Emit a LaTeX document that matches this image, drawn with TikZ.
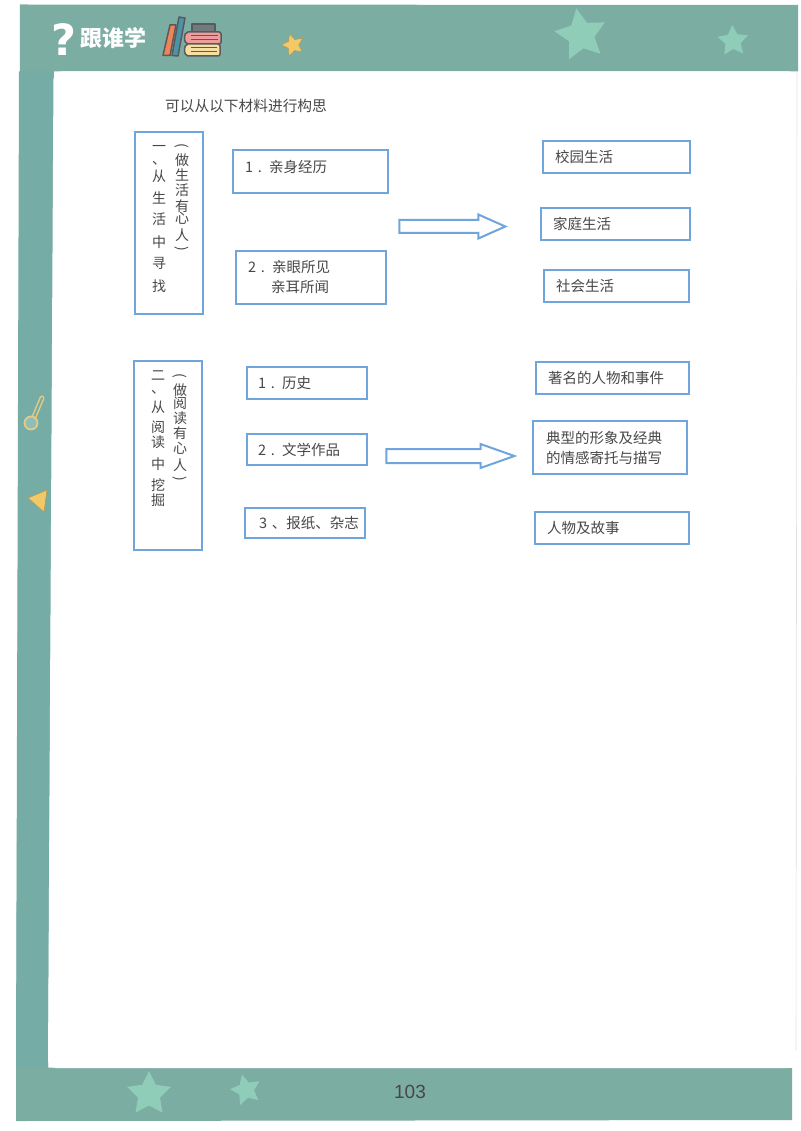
\documentclass[tikz,border=0pt]{standalone}
\usepackage{fontspec}
\setmainfont{Noto Sans CJK SC}
\newfontfamily\latinfont{Liberation Sans}
\newfontfamily\qfont{DejaVu Sans}
\usetikzlibrary{shapes.geometric,shapes.arrows}
\definecolor{frameteal}{HTML}{7CADA2}
\definecolor{stripteal}{HTML}{75ACA5}
\definecolor{starteal}{HTML}{8FCDB8}
\definecolor{boxblue}{HTML}{6FA5DC}
\definecolor{inkgray}{HTML}{484848}
\definecolor{gold}{HTML}{F2C968}
\definecolor{goldline}{HTML}{B39A55}
\definecolor{keygold}{HTML}{E3CB85}
\definecolor{bookline}{HTML}{5A5A5C}
\definecolor{bookorange}{HTML}{EE8458}
\definecolor{bookblue}{HTML}{4D93A6}
\definecolor{bookgray}{HTML}{6F7B7C}
\definecolor{bookpink}{HTML}{EE9C9C}
\definecolor{bookyellow}{HTML}{F6DFA2}
\newcommand\colfont{\fontsize{14}{14}\selectfont\lineskiplimit=-100pt\relax}
\tikzset{
  bluebox/.style={draw=boxblue,line width=2.3pt,fill=white,inner ysep=0pt,align=left,text=inkgray,
    font=\fontsize{14.5}{20}\selectfont},
  vcol/.style={inner sep=0pt,align=center,text=inkgray,anchor=north,font=\colfont},
  blockarrow/.style={draw=boxblue,line width=2pt,fill=white,single arrow,single arrow head indent=0pt,inner xsep=0pt,text=white},
  deco star/.style={star,star points=5,star point ratio=2,inner sep=0pt,fill=starteal},
  book/.style={draw=bookline,line width=1.5pt,line join=round},
}
\newcommand\bx[7]{%
  \pgfmathsetmacro\bw{#4-#2}\pgfmathsetmacro\bh{#5-#3}\pgfmathsetmacro\tw{#4-#2-2*#6}%
  \node[bluebox,minimum width=\bw pt,minimum height=\bh pt,inner xsep=#6 pt,text width=\tw pt]
    (#1) at ({(#2+#4)/2},{(#3+#5)/2}) {#7};}
\newcommand\vc[1]{\hbox to 1em{\hss\rule[-0.12em]{0pt}{1em}#1\hss}}
\newcommand\vopen{\vc{\rotatebox[origin=c]{-90}{(}}}
\newcommand\vclose{\vc{\rotatebox[origin=c]{-90}{)}}}
\begin{document}
\begin{tikzpicture}[x=1pt,y=-1pt]
\useasboundingbox (0,0) rectangle (800,1131);
\fill[white] (0,0) rectangle (800,1131);
% coloured page frame
\fill[frameteal] (20,4.5) -- (798,5) -- (798,71.5) -- (54,71.5) -- (48,1067.5) -- (792,1068) -- (792,1120) -- (16,1121) -- cycle;
\fill[stripteal] (19,71.5) -- (54,71.5) -- (48,1067.5) -- (16,1067.5) -- cycle;
\fill[white,rounded corners=8pt] (53.5,71.5) -- (797,71.5) -- (796,1068) -- (48,1068) -- cycle;
\draw[black!12,line width=0.6pt] (797,72) -- (796,1050);
% stars
\node[deco star,minimum size=54pt,rotate=10] (s1) at (581,35) {};
\node[deco star,minimum size=32pt,rotate=3] (s2) at (733,41) {};
\node[deco star,minimum size=46pt] (s3) at (149,1094) {};
\node[deco star,minimum size=32pt,rotate=15] (s4) at (246,1090) {};
\node[deco star,minimum size=23pt,rotate=17,fill=gold,draw=goldline,line width=0.5pt] (s5) at (293,45) {};
% header title
\node[inner sep=0pt,text=white,font=\qfont\bfseries\fontsize{43}{43}\selectfont] (qm) at (64,40) {?};
\node[inner sep=0pt,text=white,font=\bfseries\fontsize{22}{22}\selectfont] (brand) at (113,38) {跟谁学};
% books
\filldraw[book,fill=bookorange] (163,55.5) -- (170,25) -- (176,25) -- (170,55.5) -- cycle;
\filldraw[book,fill=bookblue] (172,55.5) -- (179,17) -- (185,18) -- (178,56) -- cycle;
\filldraw[book,fill=bookgray] (192,24) rectangle (215,32);
\filldraw[book,fill=bookpink,rounded corners=2pt] (221,32) -- (186,32) -- (184,38) -- (186,44) -- (221,44) -- cycle;
\filldraw[book,fill=bookyellow,rounded corners=2pt] (220,44) -- (186,44) -- (184,50) -- (186,56) -- (220,56) -- cycle;
\draw[book,line width=1pt] (191,36) -- (218,36) (191,40) -- (218,40) (191,48) -- (217,48) (191,52) -- (217,52);
% left strip ornaments
\draw[keygold,line width=5pt,line cap=round] (42,398) -- (34,417);
\draw[stripteal,line width=2pt,line cap=round] (42,398) -- (34,417);
\draw[keygold,line width=1.8pt,fill=stripteal!80!white] (31,423) circle (6.5);
\filldraw[fill=gold,draw=goldline,line width=0.6pt] (47,490) -- (28,498) -- (44,512) -- cycle;
% content
\node[inner sep=0pt,text=inkgray,font=\fontsize{14.7}{14.7}\selectfont] (title) at (246,106) {可以从以下材料进行构思};
% group one
\node[draw=boxblue,line width=2.3pt,fill=white,minimum width=68pt,minimum height=182pt,inner sep=0pt] (a1) at (169,223) {};
\node[vcol] (a1main) at (159,139) {\vc{一}\\[-1pt]\vc{、}\\[3pt]\vc{从}\\[8pt]\vc{生}\\[7pt]\vc{活}\\[9pt]\vc{中}\\[7pt]\vc{寻}\\[9pt]\vc{找}};
\node[vcol] (a1sub) at (182,138) {\vopen\\[1pt]\vc{做}\\[1pt]\vc{生}\\[1pt]\vc{活}\\[2pt]\vc{有}\\[-2pt]\vc{心}\\[3pt]\vc{人}\\[-1pt]\vclose};
\bx{b1}{233}{150}{388}{193}{12}{\raisebox{10pt}{1 . 亲身经历}}
\bx{b2}{236}{251}{386}{304}{12}{2 . 亲眼所见\\\hspace*{23pt}亲耳所闻}
\node[blockarrow,inner ysep=5.5pt,minimum height=106pt,single arrow head extend=5.5pt,single arrow tip angle=48] (arrow1) at (445,226.5) {};
\bx{c1}{543}{141}{690}{173}{12}{校园生活}
\bx{c2}{541}{208}{690}{240}{12}{家庭生活}
\bx{c3}{544}{270}{689}{302}{12}{社会生活}
% group two
\node[draw=boxblue,line width=2.3pt,fill=white,minimum width=68pt,minimum height=189pt,inner sep=0pt] (a2) at (168,455.5) {};
\node[vcol] (a2main) at (158,368) {\vc{二}\\[-1pt]\vc{、}\\[5pt]\vc{从}\\[6pt]\vc{阅}\\[1pt]\vc{读}\\[8pt]\vc{中}\\[7pt]\vc{挖}\\[1pt]\vc{掘}};
\node[vcol] (a2sub) at (180,368) {\vopen\\[1pt]\vc{做}\\[-1pt]\vc{阅}\\[1pt]\vc{读}\\[1pt]\vc{有}\\[1pt]\vc{心}\\[3pt]\vc{人}\\[-1pt]\vclose};
\bx{d1}{247}{367}{367}{399}{11}{1 . 历史}
\bx{d2}{247}{434}{367}{465}{11}{2 . 文学作品}
\bx{d3}{245}{508}{365}{538}{12}{\hspace*{2pt}\mbox{3 、报纸、杂志}}
\node[blockarrow,inner ysep=6pt,minimum height=128pt,single arrow head extend=5pt,single arrow tip angle=39] (arrow2) at (440.5,456) {};
\bx{e1}{536}{362}{689}{394}{12}{著名的人物和事件}
\bx{e2}{533}{421}{687}{474}{13}{典型的形象及经典\\的情感寄托与描写}
\bx{e3}{535}{512}{689}{544}{12}{人物及故事}
% page number
\node[inner sep=0pt,text=black!72,font=\latinfont\fontsize{19}{19}\selectfont] (page) at (410,1092) {103};
\end{tikzpicture}
\end{document}
